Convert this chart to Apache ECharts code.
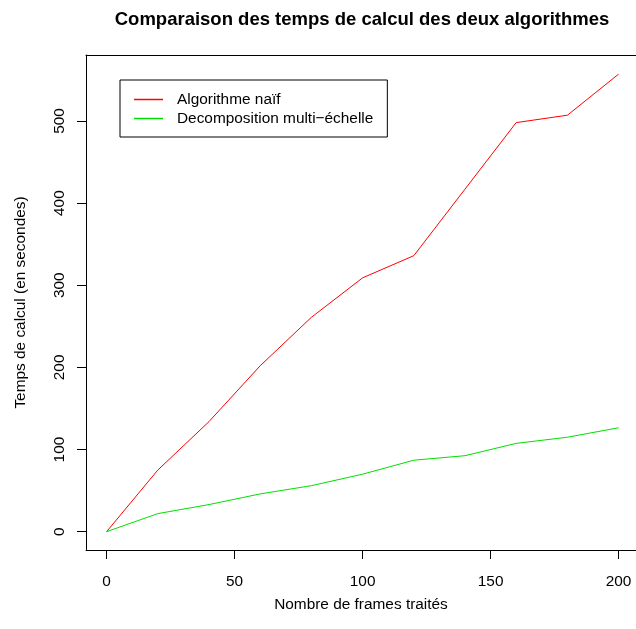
<!DOCTYPE html>
<html>
<head>
<meta charset="utf-8">
<script src="https://cdn.jsdelivr.net/npm/echarts@6/dist/echarts.min.js"></script>
<style>
  html, body { margin: 0; padding: 0; background: #fff; }
  #chart { width: 636px; height: 629px; }
</style>
</head>
<body>
<div id="chart"></div>
<script>
// Nombre de frames traités (axe x)
const frames = [0, 20, 40, 60, 80, 100, 120, 140, 160, 180, 200];
// Temps de calcul en secondes
const naif = [0, 75, 134, 202, 261, 309, 336, 417, 498, 507, 557];
const multiEchelle = [0, 22, 33, 46, 56, 70, 87, 92.5, 107.5, 115, 126.5];
// Graduations des axes
const xTicks = [0, 50, 100, 150, 200];
const yTicks = [0, 100, 200, 300, 400, 500];

const FONT = 'Liberation Sans, Arial, Helvetica, sans-serif';

function pairs(xs, ys) {
  return xs.map((x, i) => [x, ys[i]]);
}

// Étendue des axes : marge de 4 % autour des données ; le bord droit du cadre
// tombe juste au-delà de la fenêtre, l'axe x s'arrête donc au bord visible.
const xMin = -8.05, xMax = 206.8;
const yMin = -22.3, yMax = 580.3;

const chart = echarts.init(document.getElementById('chart'), null, { renderer: 'canvas' });

const tickLine = { color: '#000', width: 1 };
const labelFont = { fontFamily: FONT, fontSize: 15.4, color: '#000' };

chart.setOption({
  animation: false,
  backgroundColor: '#ffffff',
  title: {
    text: 'Comparaison des temps de calcul des deux algorithmes',
    left: 357,
    textAlign: 'center',
    top: 5,
    textStyle: { fontFamily: FONT, fontSize: 18.5, fontWeight: 'bold', color: '#000' }
  },
  grid: { left: 86, top: 55, right: 0, height: 495 },
  legend: {
    left: 120, top: 80,
    orient: 'vertical',
    padding: [10, 14, 9, 14],
    itemGap: 0,
    itemWidth: 29,
    itemHeight: 1.5,
    icon: 'rect',
    borderColor: '#000',
    borderWidth: 1,
    textStyle: Object.assign({}, labelFont, { lineHeight: 19, padding: [0, 0, 0, 9] }),
    data: ['Algorithme naïf', 'Decomposition multi\u2212échelle']
  },
  xAxis: [
    {
      type: 'value',
      position: 'bottom',
      min: xMin, max: xMax,
      name: 'Nombre de frames traités',
      nameLocation: 'middle',
      nameGap: 47,
      nameTextStyle: labelFont,
      axisLine: { show: true, onZero: false, lineStyle: tickLine },
      splitLine: { show: false },
      axisTick: { show: true, length: 9, lineStyle: tickLine, customValues: xTicks },
      axisLabel: Object.assign({ margin: 24, customValues: xTicks }, labelFont)
    },
    {
      // bord supérieur du cadre
      type: 'value',
      position: 'top',
      min: xMin, max: xMax,
      axisLine: { show: true, onZero: false, lineStyle: tickLine },
      axisTick: { show: false },
      axisLabel: { show: false },
      splitLine: { show: false }
    }
  ],
  yAxis: {
    type: 'value',
    min: yMin, max: yMax,
    name: 'Temps de calcul (en secondes)',
    nameLocation: 'middle',
    nameRotate: 90,
    nameGap: 58,
    nameTextStyle: labelFont,
    axisLine: { show: true, onZero: false, lineStyle: tickLine },
    splitLine: { show: false },
    axisTick: { show: true, length: 9, lineStyle: tickLine, customValues: yTicks },
    axisLabel: Object.assign({ rotate: 90, margin: 19, customValues: yTicks }, labelFont)
  },
  series: [
    {
      name: 'Algorithme naïf',
      type: 'line',
      data: pairs(frames, naif),
      symbol: 'none',
      lineStyle: { color: '#ff0000', width: 1 },
      itemStyle: { color: '#ff0000' }
    },
    {
      name: 'Decomposition multi\u2212échelle',
      type: 'line',
      data: pairs(frames, multiEchelle),
      symbol: 'none',
      lineStyle: { color: '#00e000', width: 1 },
      itemStyle: { color: '#00e000' }
    }
  ]
});
</script>
</body>
</html>
